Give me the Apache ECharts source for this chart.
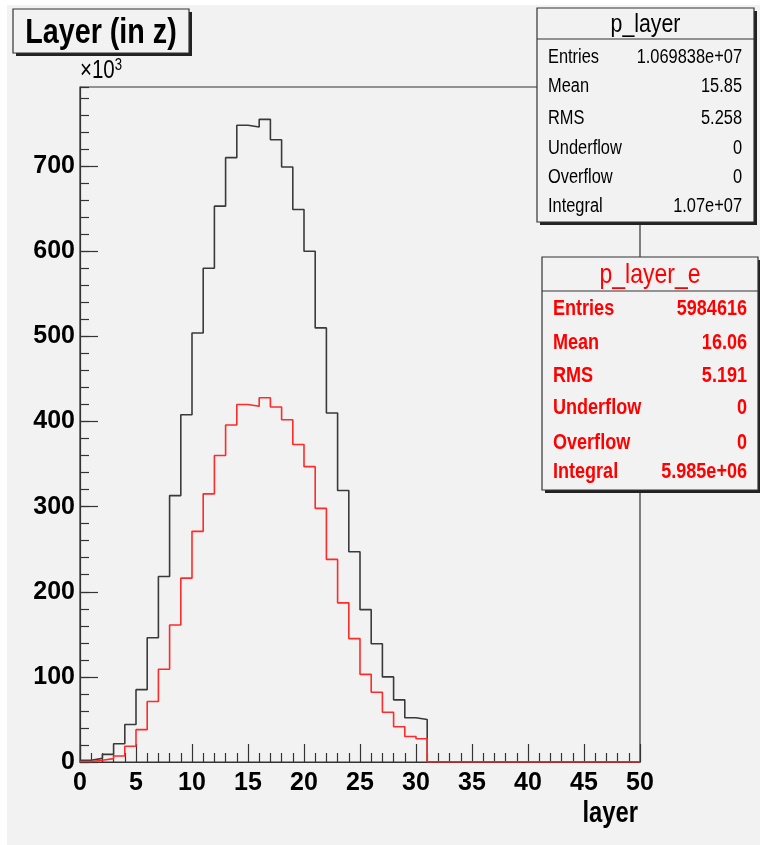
<!DOCTYPE html>
<html>
<head>
<meta charset="utf-8">
<script src="https://cdn.jsdelivr.net/npm/echarts@6/dist/echarts.min.js"></script>
<style>
html,body{margin:0;padding:0;background:#ffffff;}
#bg{position:absolute;left:7px;top:5px;width:753px;height:840px;background:#f2f2f2;}
#chart{position:absolute;left:0;top:0;width:760px;height:845px;}
</style>
</head>
<body>
<div id="bg"></div>
<div id="chart"></div>
<script>
// Histogram bins: layer 0..49 (bin width 1), values in units of 10^3 entries
const binEdgesStart = 0;
const pLayer = [2, 4.3, 9, 21.5, 44, 85, 146, 218, 313, 408,
  504, 580, 653, 710, 748, 746, 755, 731, 699, 649,
  600, 510, 410, 319, 247, 179, 139, 100, 73, 52,
  50, 0, 0, 0, 0, 0, 0, 0, 0, 0,
  0, 0, 0, 0, 0, 0, 0, 0, 0, 0];
const pLayerE = [0.5, 2, 4, 7, 18.5, 38, 71, 109, 161, 216,
  271, 315, 360, 396, 420, 418, 428, 417, 402, 373,
  347, 298, 238, 187, 145, 103, 82, 58.5, 41.5, 30,
  27.4, 0, 0, 0, 0, 0, 0, 0, 0, 0,
  0, 0, 0, 0, 0, 0, 0, 0, 0, 0];
const yTicks = [0, 100, 200, 300, 400, 500, 600, 700];
const xTicks = [0, 5, 10, 15, 20, 25, 30, 35, 40, 45, 50];
const stats1Labels = ['Entries', 'Mean', 'RMS', 'Underflow', 'Overflow', 'Integral'];
const stats1Values = ['1.069838e+07', '15.85', '5.258', '0', '0', '1.07e+07'];
const stats2Labels = ['Entries', 'Mean', 'RMS', 'Underflow', 'Overflow', 'Integral'];
const stats2Values = ['5984616', '16.06', '5.191', '0', '0', '5.985e+06'];

function stepData(arr) {
  const d = arr.map((v, i) => [binEdgesStart + i, v]);
  d.push([binEdgesStart + arr.length, arr[arr.length - 1]]);
  return d;
}

const FONT = "'Liberation Sans', Arial, sans-serif";
const NARROW = 0.82;
const YMAX = 793;

const chart = echarts.init(document.getElementById('chart'), null, {renderer: 'canvas'});

function ntext(str, x, y, font, color, align, z) {
  return {type: 'text', x: x, y: y, scaleX: NARROW, z: z || 102,
    style: {text: str, x: 0, y: 0, font: font, fill: color, textAlign: align, textVerticalAlign: 'middle'}};
}

function statBox(x, y, w, h, titleH, title, titleFont, titleColor, labels, values, rowYs, rowFont, color, padL, padR) {
  const children = [
    {type: 'rect', shape: {x: x + 3, y: y + 3, width: w, height: h}, style: {fill: '#222'}},
    {type: 'rect', shape: {x: x, y: y, width: w, height: h}, style: {fill: '#f2f2f2', stroke: '#333', lineWidth: 1.2}},
    {type: 'line', shape: {x1: x, y1: y + titleH, x2: x + w, y2: y + titleH}, style: {stroke: '#333', lineWidth: 1.2}},
    ntext(title, x + w / 2, y + titleH / 2 + 1, titleFont, titleColor, 'center')
  ];
  labels.forEach((l, i) => {
    children.push(ntext(l, x + padL, rowYs[i], rowFont, color, 'left'));
    children.push(ntext(values[i], x + w - padR, rowYs[i], rowFont, color, 'right'));
  });
  return {type: 'group', children: children, z: 100};
}

const option = {
  backgroundColor: 'transparent',
  animation: false,
  grid: {left: 80, right: 120, top: 87, bottom: 83, show: true, borderColor: '#333', borderWidth: 1.2, backgroundColor: '#f2f2f2'},
  xAxis: {
    type: 'value', min: 0, max: 50, interval: 5,
    axisLine: {show: true, onZero: false, lineStyle: {color: '#333', width: 1.2}},
    axisTick: {show: true, inside: true, length: 18, lineStyle: {color: '#333', width: 1.2}},
    minorTick: {show: true, splitNumber: 5, length: 9, lineStyle: {color: '#333', width: 1.2}},
    splitLine: {show: false},
    axisLabel: {show: true, margin: 9, fontFamily: FONT, fontWeight: 'bold', fontSize: 25, color: '#000',
      formatter: v => (xTicks.indexOf(v) >= 0 ? String(v) : '')}
  },
  yAxis: [{
    type: 'value', min: 0, max: YMAX, interval: 100,
    axisLine: {show: true, lineStyle: {color: '#333', width: 1.2}},
    axisTick: {show: true, inside: true, length: 18, lineStyle: {color: '#333', width: 1.2}},
    splitLine: {show: false},
    axisLabel: {show: true, margin: 5, fontFamily: FONT, fontWeight: 'bold', fontSize: 25, color: '#000',
      showMaxLabel: false,
      formatter: v => (yTicks.indexOf(v) >= 0 ? String(v) : '')}
  }, {
    type: 'value', min: 0, max: YMAX, interval: 20, position: 'left',
    axisLine: {show: false},
    axisTick: {show: true, inside: true, length: 9, lineStyle: {color: '#333', width: 1.2}},
    splitLine: {show: false},
    axisLabel: {show: false}
  }],
  series: [{
    name: 'p_layer', type: 'line', step: 'end', data: stepData(pLayer),
    showSymbol: false, symbol: 'none', lineStyle: {color: '#3a3a3a', width: 1.6}, z: 3
  }, {
    name: 'p_layer_e', type: 'line', step: 'end', data: stepData(pLayerE),
    showSymbol: false, symbol: 'none', lineStyle: {color: '#ff2a2a', width: 1.6}, z: 4
  }],
  graphic: [
    // title box
    {type: 'rect', shape: {x: 16, y: 12, width: 176, height: 44}, style: {fill: '#222'}, z: 100},
    {type: 'rect', shape: {x: 13, y: 9, width: 176, height: 44}, style: {fill: '#f2f2f2', stroke: '#333', lineWidth: 1.2}, z: 101},
    ntext('Layer (in z)', 101, 33, "bold 35px " + FONT, '#000', 'center'),
    // exponent
    {type: 'text', x: 80, y: 84, scaleX: NARROW, z: 102, style: {
      text: '{b|×10}{s|3}', x: 0, y: 0, textAlign: 'left', textVerticalAlign: 'bottom',
      rich: {b: {fontFamily: FONT, fontSize: 25, color: '#000', verticalAlign: 'bottom'},
             s: {fontFamily: FONT, fontSize: 16, color: '#000', verticalAlign: 'top', padding: [0, 0, 10, 0]}}
    }},
    // x axis title
    ntext('layer', 638, 814, "bold 29px " + FONT, '#000', 'right'),
    statBox(537, 8, 217, 214, 31, 'p_layer', "26px " + FONT, '#000', stats1Labels, stats1Values,
      [57, 86, 118, 148, 177, 206], "20px " + FONT, '#000', 11, 12),
    statBox(542, 257, 216, 233, 34, 'p_layer_e', "28px " + FONT, '#ff0000', stats2Labels, stats2Values,
      [309, 343, 376, 408, 443, 472], "bold 22px " + FONT, '#ff0000', 11, 11)
  ]
};
chart.setOption(option);
</script>
</body>
</html>
